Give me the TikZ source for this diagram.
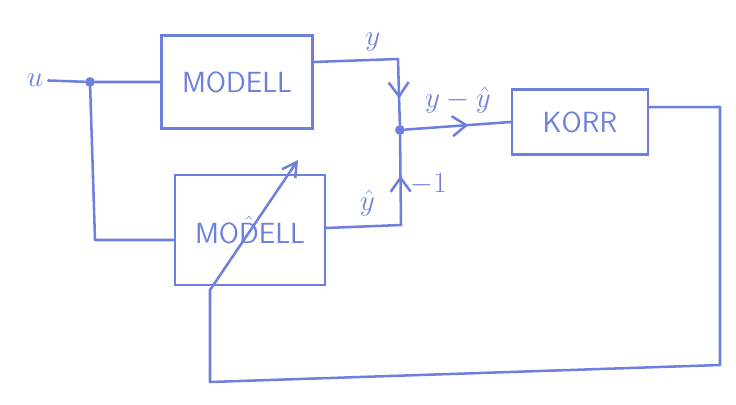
\documentclass[tikz,border=0pt]{standalone}
\usepackage{tikz}
\usetikzlibrary{arrows.meta, positioning, decorations.markings}
\definecolor{pen}{RGB}{110, 128, 222}

\begin{document}
\begin{tikzpicture}[
    x=0.025cm, y=-0.025cm,
    wire/.style={draw=pen, line width=1.8pt, line join=round, line cap=round},
    block/.style={rectangle, draw=pen, line width=1.8pt, align=center, text=pen, font=\huge\sffamily},
    lbl/.style={text=pen, font=\huge},
    junction/.style={circle, fill=pen, draw=none, inner sep=0pt, minimum size=7pt},
    midarrow/.style={postaction={decorate}, decoration={markings, mark=at position #1 with {\arrow{Straight Barb[length=3.5mm, width=5mm, line width=1.8pt]}}}}
]
    \useasboundingbox (0,0) rectangle (736,405);

    % blocks
    \node (model) [block, minimum width=3.78cm, minimum height=2.33cm] at (237,82) {MODELL};
    \node (estim) [block, minimum width=3.75cm, minimum height=2.75cm] at (250,230) {MO$\hat{\textsf{D}}$ELL};
    \node (korr) [block, minimum width=3.4cm, minimum height=1.63cm] at (580,122) {KORR};

    % points
    \node (in) [lbl] at (35,80) {$u$};
    \node (split) [junction] at (90,82) {};
    \node (sum) [junction] at (400,130) {};
    \coordinate (ycorner) at (398,59);
    \coordinate (hcorner) at (401,225);
    \coordinate (lcorner) at (95,240);
    \coordinate (fb1) at (720,107);
    \coordinate (fb2) at (720,365);
    \coordinate (fb3) at (210,382);
    \coordinate (fb4) at (210,290);
    \coordinate (tune) at (298,160);

    % signals
    \draw [wire] (in) -- (split) -- (model.west);
    \draw [wire] (split) -- (lcorner) -- (lcorner -| estim.west);
    \draw [wire] ([yshift=0.5cm]model.east) -- node[lbl, above=2pt, pos=0.7]{$y$} (ycorner);
    \draw [wire, midarrow=0.6] (ycorner) -- (sum);
    \draw [wire] ([yshift=0.05cm]estim.east) -- node[lbl, above=3pt, pos=0.55]{$\hat{y}$} (hcorner);
    \draw [wire, midarrow=0.55] (hcorner) -- node[lbl, right=3pt, pos=0.45]{$-1$} (sum);
    \draw [wire, midarrow=0.6] (sum) -- node[lbl, above=5pt, pos=0.5]{$y-\hat{y}$} (korr.west);

    % adaption
    \draw [wire, -{Straight Barb[length=3.5mm, width=4mm]}] ([yshift=0.37cm]korr.east) -- (fb1) -- (fb2) -- (fb3) -- (fb4) -- (tune);
\end{tikzpicture}
\end{document}
